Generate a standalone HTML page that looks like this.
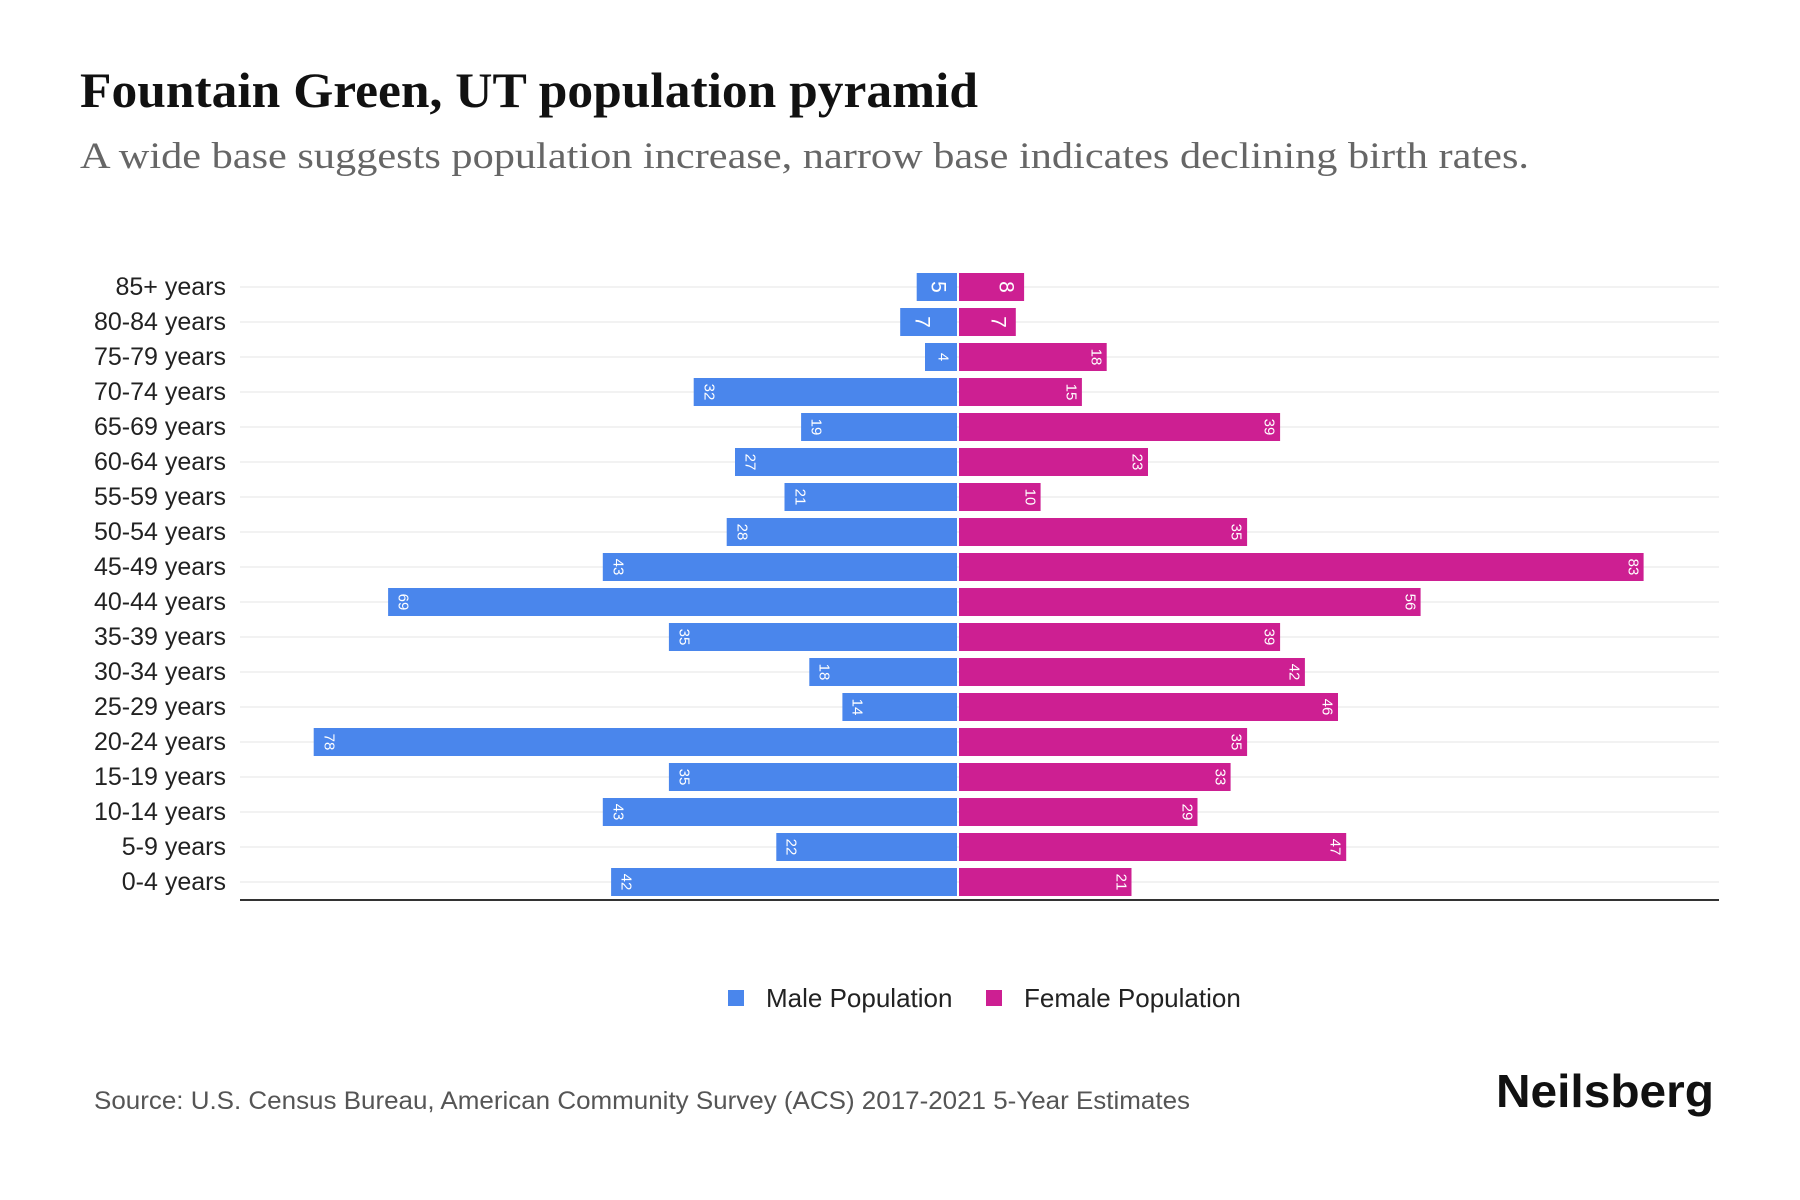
<!DOCTYPE html>
<html><head><meta charset="utf-8"><style>
html,body{margin:0;padding:0;background:#fff;}
svg{display:block}
.lab{font-family:"Liberation Sans",sans-serif;font-size:25px;fill:#222;text-anchor:end;dominant-baseline:central}
.v{font-family:"Liberation Sans",sans-serif;font-size:15px;fill:#fff;text-anchor:middle;dominant-baseline:central}
.vb{font-size:21px}
.m{fill:#4a86ec}.f{fill:#cd1f92}
</style></head><body>
<svg width="1800" height="1200" viewBox="0 0 1800 1200" xmlns="http://www.w3.org/2000/svg">
<text x="80" y="107" font-family="Liberation Serif,serif" font-weight="bold" font-size="50" fill="#111" textLength="898" lengthAdjust="spacingAndGlyphs">Fountain Green, UT population pyramid</text>
<text x="80" y="168" font-family="Liberation Serif,serif" font-size="37" fill="#666" textLength="1449" lengthAdjust="spacingAndGlyphs">A wide base suggests population increase, narrow base indicates declining birth rates.</text>
<g stroke="#eee" stroke-width="1.5">
<line x1="240" x2="1719" y1="287" y2="287"/><line x1="240" x2="1719" y1="322" y2="322"/><line x1="240" x2="1719" y1="357" y2="357"/><line x1="240" x2="1719" y1="392" y2="392"/><line x1="240" x2="1719" y1="427" y2="427"/><line x1="240" x2="1719" y1="462" y2="462"/><line x1="240" x2="1719" y1="497" y2="497"/><line x1="240" x2="1719" y1="532" y2="532"/><line x1="240" x2="1719" y1="567" y2="567"/><line x1="240" x2="1719" y1="602" y2="602"/><line x1="240" x2="1719" y1="637" y2="637"/><line x1="240" x2="1719" y1="672" y2="672"/><line x1="240" x2="1719" y1="707" y2="707"/><line x1="240" x2="1719" y1="742" y2="742"/><line x1="240" x2="1719" y1="777" y2="777"/><line x1="240" x2="1719" y1="812" y2="812"/><line x1="240" x2="1719" y1="847" y2="847"/><line x1="240" x2="1719" y1="882" y2="882"/>
</g>
<g>
<text class="lab" x="226" y="287">85+ years</text><text class="lab" x="226" y="322">80-84 years</text><text class="lab" x="226" y="357">75-79 years</text><text class="lab" x="226" y="392">70-74 years</text><text class="lab" x="226" y="427">65-69 years</text><text class="lab" x="226" y="462">60-64 years</text><text class="lab" x="226" y="497">55-59 years</text><text class="lab" x="226" y="532">50-54 years</text><text class="lab" x="226" y="567">45-49 years</text><text class="lab" x="226" y="602">40-44 years</text><text class="lab" x="226" y="637">35-39 years</text><text class="lab" x="226" y="672">30-34 years</text><text class="lab" x="226" y="707">25-29 years</text><text class="lab" x="226" y="742">20-24 years</text><text class="lab" x="226" y="777">15-19 years</text><text class="lab" x="226" y="812">10-14 years</text><text class="lab" x="226" y="847">5-9 years</text><text class="lab" x="226" y="882">0-4 years</text>
</g>
<g class="m">
<rect x="916.7" y="273" width="40.3" height="28"/><rect x="900.2" y="308" width="56.8" height="28"/><rect x="925" y="343" width="32" height="28"/><rect x="693.7" y="378" width="263.3" height="28"/><rect x="801.1" y="413" width="155.9" height="28"/><rect x="735" y="448" width="222" height="28"/><rect x="784.5" y="483" width="172.5" height="28"/><rect x="726.7" y="518" width="230.3" height="28"/><rect x="602.8" y="553" width="354.2" height="28"/><rect x="388.1" y="588" width="568.9" height="28"/><rect x="668.9" y="623" width="288.1" height="28"/><rect x="809.3" y="658" width="147.7" height="28"/><rect x="842.4" y="693" width="114.6" height="28"/><rect x="313.7" y="728" width="643.3" height="28"/><rect x="668.9" y="763" width="288.1" height="28"/><rect x="602.8" y="798" width="354.2" height="28"/><rect x="776.3" y="833" width="180.7" height="28"/><rect x="611.1" y="868" width="345.9" height="28"/>
</g>
<g class="f">
<rect x="959" y="273" width="65.1" height="28"/><rect x="959" y="308" width="56.8" height="28"/><rect x="959" y="343" width="147.7" height="28"/><rect x="959" y="378" width="122.9" height="28"/><rect x="959" y="413" width="321.1" height="28"/><rect x="959" y="448" width="189" height="28"/><rect x="959" y="483" width="81.6" height="28"/><rect x="959" y="518" width="288.1" height="28"/><rect x="959" y="553" width="684.6" height="28"/><rect x="959" y="588" width="461.6" height="28"/><rect x="959" y="623" width="321.1" height="28"/><rect x="959" y="658" width="345.9" height="28"/><rect x="959" y="693" width="379" height="28"/><rect x="959" y="728" width="288.1" height="28"/><rect x="959" y="763" width="271.6" height="28"/><rect x="959" y="798" width="238.5" height="28"/><rect x="959" y="833" width="387.2" height="28"/><rect x="959" y="868" width="172.5" height="28"/>
</g>
<g>
<text class="v vb" transform="translate(938,287) rotate(90)">5</text>
<text class="v vb" transform="translate(922,322) rotate(90)">7</text>
<text class="v" transform="translate(943,357) rotate(90)">4</text>
<text class="v" transform="translate(709,392) rotate(90)">32</text>
<text class="v" transform="translate(816,427) rotate(90)">19</text>
<text class="v" transform="translate(750,462) rotate(90)">27</text>
<text class="v" transform="translate(800,497) rotate(90)">21</text>
<text class="v" transform="translate(742,532) rotate(90)">28</text>
<text class="v" transform="translate(618,567) rotate(90)">43</text>
<text class="v" transform="translate(403,602) rotate(90)">69</text>
<text class="v" transform="translate(684,637) rotate(90)">35</text>
<text class="v" transform="translate(824,672) rotate(90)">18</text>
<text class="v" transform="translate(857,707) rotate(90)">14</text>
<text class="v" transform="translate(329,742) rotate(90)">78</text>
<text class="v" transform="translate(684,777) rotate(90)">35</text>
<text class="v" transform="translate(618,812) rotate(90)">43</text>
<text class="v" transform="translate(791,847) rotate(90)">22</text>
<text class="v" transform="translate(626,882) rotate(90)">42</text>
<text class="v vb" transform="translate(1006,287) rotate(90)">8</text>
<text class="v vb" transform="translate(998,322) rotate(90)">7</text>
<text class="v" transform="translate(1096,357) rotate(90)">18</text>
<text class="v" transform="translate(1071,392) rotate(90)">15</text>
<text class="v" transform="translate(1269,427) rotate(90)">39</text>
<text class="v" transform="translate(1137,462) rotate(90)">23</text>
<text class="v" transform="translate(1030,497) rotate(90)">10</text>
<text class="v" transform="translate(1236,532) rotate(90)">35</text>
<text class="v" transform="translate(1633,567) rotate(90)">83</text>
<text class="v" transform="translate(1410,602) rotate(90)">56</text>
<text class="v" transform="translate(1269,637) rotate(90)">39</text>
<text class="v" transform="translate(1294,672) rotate(90)">42</text>
<text class="v" transform="translate(1327,707) rotate(90)">46</text>
<text class="v" transform="translate(1236,742) rotate(90)">35</text>
<text class="v" transform="translate(1220,777) rotate(90)">33</text>
<text class="v" transform="translate(1187,812) rotate(90)">29</text>
<text class="v" transform="translate(1335,847) rotate(90)">47</text>
<text class="v" transform="translate(1121,882) rotate(90)">21</text>
</g>
<line x1="240" x2="1719" y1="900" y2="900" stroke="#333" stroke-width="2"/>
<rect x="728" y="990" width="16" height="16" fill="#4a86ec"/>
<text x="766" y="998" font-family="Liberation Sans,sans-serif" font-size="26" fill="#222" dominant-baseline="central">Male Population</text>
<rect x="986" y="990" width="16" height="16" fill="#cd1f92"/>
<text x="1024" y="998" font-family="Liberation Sans,sans-serif" font-size="26" fill="#222" dominant-baseline="central">Female Population</text>
<text x="94" y="1101" font-family="Liberation Sans,sans-serif" font-size="25" fill="#555" dominant-baseline="central" textLength="1096" lengthAdjust="spacingAndGlyphs">Source: U.S. Census Bureau, American Community Survey (ACS) 2017-2021 5-Year Estimates</text>
<text x="1496" y="1091" font-family="Liberation Sans,sans-serif" font-weight="bold" font-size="46" fill="#111" dominant-baseline="central" textLength="218" lengthAdjust="spacingAndGlyphs">Neilsberg</text>
</svg>
</body></html>
